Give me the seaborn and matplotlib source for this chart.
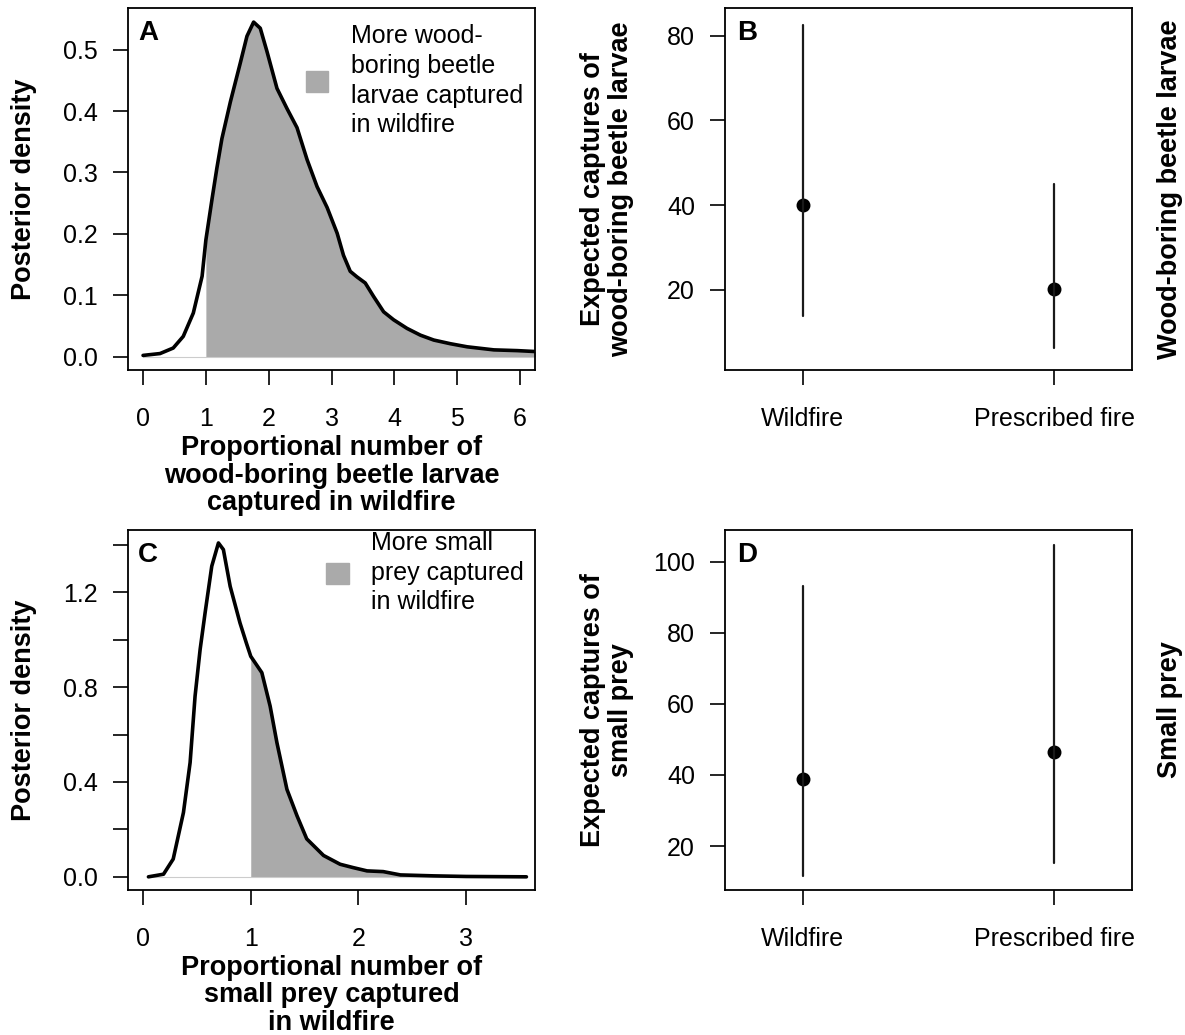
import numpy as np
import pandas as pd
import matplotlib
matplotlib.use("Agg")
import matplotlib.pyplot as plt
from matplotlib.patches import Patch
import seaborn as sns

sns.set_style("ticks")
plt.rcParams['font.family'] = ['Liberation Sans', 'DejaVu Sans']
plt.rcParams['text.color'] = 'black'
plt.rcParams['axes.labelcolor'] = 'black'
plt.rcParams['xtick.color'] = 'black'
plt.rcParams['ytick.color'] = 'black'

# A: posterior density, proportional number of wood-boring beetle larvae
beetle_x = [0.0, 0.27, 0.48, 0.64, 0.80, 0.94, 1.0, 1.10, 1.175, 1.255, 1.39, 1.547,
            1.654, 1.76, 1.866, 1.973, 2.132, 2.292, 2.451, 2.611, 2.77, 2.93,
            3.09, 3.191, 3.298, 3.404, 3.537, 3.67, 3.83, 3.989, 4.202, 4.415, 4.628,
            4.894, 5.16, 5.585, 5.957, 6.3]
beetle_y = [0.002, 0.005, 0.014, 0.033, 0.071, 0.131, 0.19, 0.258, 0.307, 0.355, 0.415, 0.478,
            0.522, 0.545, 0.535, 0.497, 0.437, 0.404, 0.373, 0.321, 0.277, 0.243,
            0.201, 0.165, 0.139, 0.13, 0.12, 0.098, 0.073, 0.06, 0.046, 0.035, 0.027,
            0.021, 0.016, 0.011, 0.0098, 0.008]

# C: posterior density, proportional number of small prey
prey_x = [0.05, 0.19, 0.28, 0.375, 0.437, 0.483, 0.53, 0.576, 0.638, 0.70, 0.746, 0.809,
          0.90, 0.96, 1.0, 1.103, 1.18, 1.243, 1.336, 1.43, 1.52, 1.676, 1.83, 1.95, 2.08,
          2.23, 2.39, 2.70, 3.0, 3.56]
prey_y = [0.0, 0.011, 0.075, 0.271, 0.482, 0.762, 0.959, 1.113, 1.31, 1.408, 1.38, 1.225,
          1.071, 0.985, 0.93, 0.861, 0.72, 0.566, 0.369, 0.257, 0.16, 0.09, 0.053, 0.039, 0.025,
          0.022, 0.008, 0.004, 0.0015, 0.0]

# B / D: expected captures with credible intervals
fire_types = ["Wildfire", "Prescribed fire"]
beetle_mid = [40.0, 20.2]
beetle_low = [13.8, 6.2]
beetle_high = [82.5, 45.0]
prey_mid = [38.8, 46.4]
prey_low = [11.6, 15.1]
prey_high = [93.0, 104.7]

shade = "#aaaaaa"
tick_fs = 18
lab_fs = 19.5


def style_box(ax):
    for sp in ax.spines.values():
        sp.set_visible(True)
        sp.set_color("black")
        sp.set_linewidth(1.3)


def density_panel(ax, xs, ys, letter, legend_text, legend_xy, xlabel):
    df = pd.DataFrame({"x": xs, "y": ys})
    ax.plot([df.x.min(), df.x.max()], [0, 0], color="#cccccc", lw=0.8)
    right = df[df.x >= 1]
    ax.fill_between(right.x, 0, right.y, color=shade, lw=0)
    sns.lineplot(data=df, x="x", y="y", ax=ax, color="black", lw=2.6, sort=False,
                 solid_joinstyle="round", solid_capstyle="round")
    style_box(ax)
    ax.tick_params(axis="both", length=10.5, width=1.2, labelsize=tick_fs, direction="out")
    ax.tick_params(axis="x", pad=16)
    ax.tick_params(axis="y", pad=11)
    ax.set_ylabel("Posterior density", fontsize=lab_fs, fontweight="bold")
    ax.yaxis.set_label_coords(-0.224, 0.5)
    ax.set_xlabel(xlabel, fontsize=lab_fs, fontweight="bold", linespacing=1.07)
    ax.xaxis.set_label_coords(0.5, -0.18)
    ax.text(0.049, 0.93, letter, transform=ax.transAxes, fontsize=20,
            fontweight="bold", ha="center", va="center")
    leg = ax.legend(handles=[Patch(color=shade)], labels=[legend_text], loc="upper left",
                    bbox_to_anchor=legend_xy, frameon=False, fontsize=tick_fs,
                    handlelength=0.9, handleheight=0.9, handletextpad=0.9,
                    borderpad=0, borderaxespad=0)
    for t in leg.get_texts():
        t.set_linespacing(1.3)


def interval_panel(ax, lows, mids, highs, letter, ylabel, side_label):
    long = pd.DataFrame({"fire": fire_types * 3, "captures": lows + mids + highs})
    sns.pointplot(data=long, x="fire", y="captures", order=fire_types, estimator="median",
                  errorbar=lambda v: (v.min(), v.max()), color="black", linestyle="none",
                  markers="o", markersize=8, err_kws={"linewidth": 1.6, "color": "#1a1a1a"},
                  ax=ax)
    style_box(ax)
    ax.set_xlim(-0.31, 1.31)
    ax.tick_params(axis="both", length=10.5, width=1.2, labelsize=tick_fs, direction="out")
    ax.tick_params(axis="x", pad=16)
    ax.tick_params(axis="y", pad=11)
    ax.set_xlabel("")
    ax.set_ylabel(ylabel, fontsize=lab_fs, fontweight="bold", linespacing=1.07)
    ax.yaxis.set_label_coords(-0.224, 0.5)
    ax.text(0.054, 0.93, letter, transform=ax.transAxes, fontsize=20,
            fontweight="bold", ha="center", va="center")
    ax.text(1.093, 0.5, side_label, transform=ax.transAxes, fontsize=lab_fs,
            fontweight="bold", rotation=90, ha="center", va="center")


fig = plt.figure(figsize=(11.85, 10.35), dpi=100)
axA = fig.add_axes([0.108, 0.6425, 0.3435, 0.3498])
axB = fig.add_axes([0.6118, 0.6425, 0.3435, 0.3498])
axC = fig.add_axes([0.108, 0.140, 0.3435, 0.348])
axD = fig.add_axes([0.6118, 0.140, 0.3435, 0.348])

density_panel(axA, beetle_x, beetle_y, "A",
              "More wood-\nboring beetle\nlarvae captured\nin wildfire", (0.437, 0.955),
              "Proportional number of\nwood-boring beetle larvae\ncaptured in wildfire")
axA.set_xlim(-0.24, 6.24)
axA.set_ylim(-0.0218, 0.568)
axA.set_xticks(range(0, 7))
axA.set_yticks([0.0, 0.1, 0.2, 0.3, 0.4, 0.5])
axA.set_yticklabels(["0.0", "0.1", "0.2", "0.3", "0.4", "0.5"])

density_panel(axC, prey_x, prey_y, "C",
              "More small\nprey captured\nin wildfire", (0.4865, 0.997),
              "Proportional number of\nsmall prey captured\nin wildfire")
axC.set_xlim(-0.14, 3.64)
axC.set_ylim(-0.056, 1.463)
axC.set_xticks(range(0, 4))
axC.set_yticks([0.0, 0.2, 0.4, 0.6, 0.8, 1.0, 1.2, 1.4])
axC.set_yticklabels(["0.0", "", "0.4", "", "0.8", "", "1.2", ""])

interval_panel(axB, beetle_low, beetle_mid, beetle_high, "B",
               "Expected captures of\nwood-boring beetle larvae", "Wood-boring beetle larvae")
axB.set_ylim(1.07, 86.5)
axB.set_yticks([20, 40, 60, 80])

interval_panel(axD, prey_low, prey_mid, prey_high, "D",
               "Expected captures of\nsmall prey", "Small prey")
axD.set_ylim(7.6, 108.9)
axD.set_yticks([20, 40, 60, 80, 100])

fig.savefig("out.png", dpi=100)
